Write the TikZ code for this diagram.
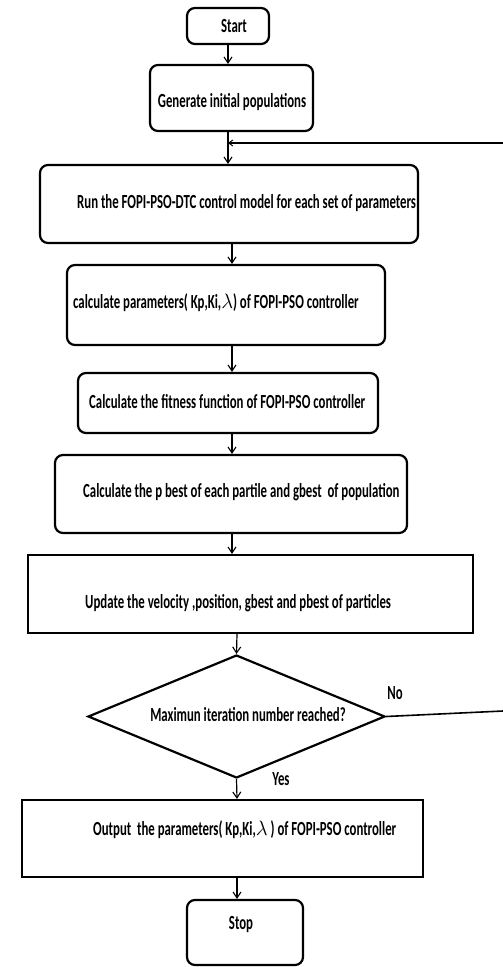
\documentclass[tikz,border=0pt]{standalone}
\usepackage{fontspec}
\newfontfamily\lblfont{Carlito}[FakeStretch=0.64]
\usetikzlibrary{arrows.meta,shapes.geometric}
\begin{document}
\begin{tikzpicture}[x=1pt,y=-1pt,
  rbox/.style={draw,line width=2.2pt,rounded corners=8pt,inner sep=0pt},
  sbox/.style={draw,line width=2.2pt,inner sep=0pt},
  txt/.style={font=\lblfont\bfseries\fontsize{20}{22}\selectfont,inner sep=0pt,anchor=west},
  arr/.style={line width=1.2pt,-{Straight Barb[length=6pt,width=8pt,line width=1.1pt]}},
  fb/.style={line width=1.6pt}]
\useasboundingbox (0,0) rectangle (503,967);
% boxes
\node[rbox,minimum width=82pt,minimum height=36pt] (start) at (228,26) {};
\node[rbox,minimum width=163pt,minimum height=66pt] (gen) at (231.5,98) {};
\node[rbox,minimum width=378pt,minimum height=78pt] (run) at (229,204) {};
\node[rbox,minimum width=318pt,minimum height=80pt] (calc) at (226,305) {};
\node[rbox,minimum width=300pt,minimum height=60pt] (fit) at (228,403) {};
\node[rbox,minimum width=352pt,minimum height=78pt] (pb) at (231,494) {};
\node[sbox,minimum width=445pt,minimum height=78pt] (upd) at (250.5,594) {};
\node[draw,line width=2.2pt,shape=diamond,inner sep=0pt,minimum width=297pt,minimum height=123pt] (dia) at (236.5,716.5) {};
\node[sbox,minimum width=401pt,minimum height=77pt] (out) at (222.5,838.5) {};
\node[rbox,minimum width=116pt,minimum height=65pt] (stop) at (245,932.5) {};
% texts
\node[txt,anchor=center] (tstart) at (234,26) {Start};
\node[txt,anchor=center] (tgen) at (232,102) {Generate initial populations};
\node[txt] (trun) at (77,203) {Run the FOPI-PSO-DTC control model for each set of parameters};
\node[txt] (tcalc) at (73,303) {calculate parameters( Kp,Ki,$\lambda$) of FOPI-PSO controller};
\node[txt] (tfit) at (89,402) {Calculate the fitness function of FOPI-PSO controller};
\node[txt] (tpb) at (83,492) {Calculate the p best of each partile and gbest\ \ of population};
\node[txt] (tupd) at (85,603) {Update the velocity ,position, gbest and pbest of particles};
\node[txt,anchor=center] (tdia) at (248,715) {Maximun iteration number reached?};
\node[txt] (tout) at (93,830) {Output\ \ the parameters( Kp,Ki,$\lambda$\ ) of FOPI-PSO controller};
\node[txt,anchor=center] (tstop) at (241,925) {Stop};
\node[txt,anchor=center] (tno) at (395,693) {No};
\node[txt,anchor=center] (tyes) at (281,779) {Yes};
% arrow x positions
\coordinate (xa) at (228,0);
\coordinate (xb) at (232,0);
\coordinate (xc) at (237,0);
\coordinate (fbtop) at (503,143);
\coordinate (fbbot) at (503,711);
% arrows
\draw[arr] (start.south -| xa) -- (gen.north -| xa);
\draw[arr] (gen.south -| xa) -- (run.north -| xa);
\draw[arr] (run.south -| xb) -- (calc.north -| xb);
\draw[arr] (calc.south -| xb) -- (fit.north -| xb);
\draw[arr] (fit.south -| xb) -- (pb.north -| xb);
\draw[arr] (pb.south -| xb) -- (upd.north -| xb);
\draw[arr] (upd.south -| xc) -- (dia.north);
\draw[arr] (dia.south) -- (out.north -| xc);
\draw[arr] (out.south -| xc) -- (stop.north -| xc);
% feedback
\draw[fb,-{Straight Barb[length=4pt,width=6pt,line width=1pt]}] (fbtop) -- (fbtop -| xa);
\draw[fb] (dia.east) -- (fbbot);
\end{tikzpicture}
\end{document}
